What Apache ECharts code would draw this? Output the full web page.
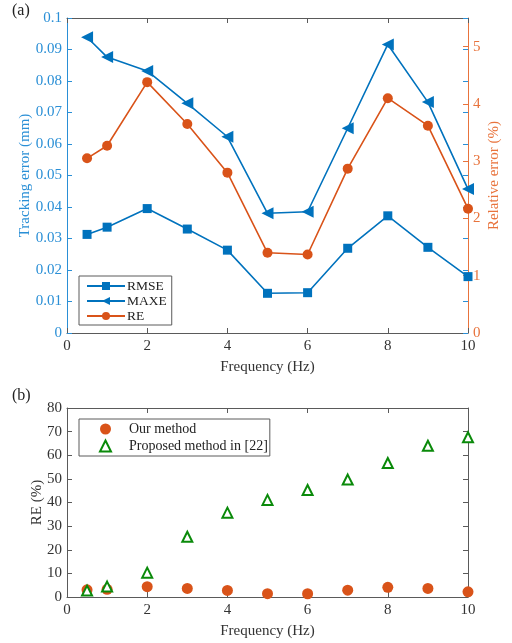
<!DOCTYPE html>
<html><head><meta charset="utf-8">
<script src="https://cdn.jsdelivr.net/npm/echarts@6/dist/echarts.min.js"></script>
<style>html,body{margin:0;padding:0;background:#fff}#c{width:512px;height:643px}</style>
</head><body><div id="c"></div>
<script>
var freq = [0.5, 1, 2, 3, 4, 5, 6, 7, 8, 9, 10];
var rmse = [0.0313, 0.0336, 0.0395, 0.0330, 0.0263, 0.0126, 0.0128, 0.0269, 0.0372, 0.0272, 0.0179];
var maxe = [0.0939, 0.0876, 0.0832, 0.0729, 0.0623, 0.0380, 0.0385, 0.0650, 0.0916, 0.0733, 0.0457];
var reTop = [3.05, 3.27, 4.38, 3.65, 2.80, 1.40, 1.37, 2.87, 4.10, 3.62, 2.17];
var ourMethod = [3.05, 3.27, 4.38, 3.65, 2.80, 1.40, 1.37, 2.87, 4.10, 3.62, 2.17];
var proposed = [2.7, 4.4, 10.3, 25.5, 35.7, 41.1, 45.3, 49.7, 56.7, 64.0, 67.6];

function pairs(xs, ys){ return xs.map(function(x,i){return [x, ys[i]];}); }

var FONT = 'Liberation Serif';
var BLUE = '#0072BD', BLUET = '#2a8fd6';
var ORANGE = '#D95319', ORANGET = '#e8733c';
var GREEN = '#0a8a0a';
var AX = '#5a5a5a', TXT = '#333';

var chart = echarts.init(document.getElementById('c'), null, {renderer:'canvas'});
function xAx(grid, pos, showLabel, name){
  return {type:'value', gridIndex:grid, position:pos, min:0, max:10, interval:2,
    axisLine:{show:true, onZero:false, lineStyle:{color:AX, width:1}},
    axisTick:{show:true, inside:true, length:5, lineStyle:{color:AX}},
    axisLabel:{show:showLabel, color:TXT, fontFamily:FONT, fontSize:15, margin:6},
    splitLine:{show:false},
    name: name||'', nameLocation:'middle', nameGap:27,
    nameTextStyle:{color:TXT, fontFamily:FONT, fontSize:15}};
}
var xAxes = [
  xAx(0,'bottom',true,'Frequency (Hz)'),
  xAx(0,'top',false),
  xAx(1,'bottom',true,'Frequency (Hz)'),
  xAx(1,'top',false)
];
xAxes.push({type:'value', gridIndex:2, min:0, max:10, show:false});

var option = {
  animation:false,
  backgroundColor:'#fff',
  grid:[
    {left:67, top:18, width:401, height:315},
    {left:67, top:408, width:401, height:189},
    {left:67, top:18, width:401, height:315}
  ],
  xAxis: xAxes,
  yAxis:[
    {type:'value', gridIndex:0, position:'left', min:0, max:0.1, interval:0.01,
      axisLine:{show:true, onZero:false, lineStyle:{color:BLUET}},
      axisTick:{show:true, inside:true, length:5, lineStyle:{color:BLUET}},
      axisLabel:{color:BLUET, fontFamily:FONT, fontSize:15, margin:5},
      splitLine:{show:false},
      name:'Tracking error (mm)', nameLocation:'middle', nameGap:34, nameMoveOverlap:false,
      nameTextStyle:{color:BLUET, fontFamily:FONT, fontSize:15}},
    {type:'value', gridIndex:0, position:'right', min:0, max:5.5, interval:1,
      axisLine:{show:true, onZero:false, lineStyle:{color:ORANGET}},
      axisTick:{show:true, inside:true, length:5, lineStyle:{color:ORANGET}},
      axisLabel:{color:ORANGET, fontFamily:FONT, fontSize:15, margin:5,
        formatter:function(v){ return (v>5.01)?'':String(v); }},
      splitLine:{show:false},
      name:'Relative error (%)', nameLocation:'middle', nameGap:19, nameRotate:90, nameMoveOverlap:false,
      nameTextStyle:{color:ORANGET, fontFamily:FONT, fontSize:15}},
    {type:'value', gridIndex:2, position:'right', min:0, max:0.1, interval:0.01,
      axisLine:{show:false, onZero:false},
      axisTick:{show:true, inside:true, length:5, lineStyle:{color:BLUET}},
      axisLabel:{show:false}, splitLine:{show:false}},
    {type:'value', gridIndex:1, position:'left', min:0, max:80, interval:10,
      axisLine:{show:true, onZero:false, lineStyle:{color:AX}},
      axisTick:{show:true, inside:true, length:5, lineStyle:{color:AX}},
      axisLabel:{color:TXT, fontFamily:FONT, fontSize:15, margin:5},
      splitLine:{show:false},
      name:'RE (%)', nameLocation:'middle', nameGap:22, nameMoveOverlap:false,
      nameTextStyle:{color:TXT, fontFamily:FONT, fontSize:15}},
    {type:'value', gridIndex:1, position:'right', min:0, max:80, interval:10,
      axisLine:{show:true, onZero:false, lineStyle:{color:AX}},
      axisTick:{show:true, inside:true, length:5, lineStyle:{color:AX}},
      axisLabel:{show:false}, splitLine:{show:false}}
  ],
  legend:[
    {orient:'vertical', left:79, top:276, itemWidth:38, itemHeight:10, itemGap:1,
      padding:[3,5,2,7], borderColor:AX, borderWidth:1, backgroundColor:'#fff',
      textStyle:{color:'#222', fontFamily:FONT, fontSize:13.5, lineHeight:12, padding:[0,0,0,-3]},
      data:['RMSE','MAXE','RE']},
    {orient:'vertical', left:79, top:419, itemWidth:11, itemHeight:11, itemGap:3,
      padding:[3,2,3,20], borderColor:AX, borderWidth:1, backgroundColor:'#fff',
      textStyle:{color:'#222', fontFamily:FONT, fontSize:14, padding:[0,0,0,13]},
      data:['Our method','Proposed method in [22]']}
  ],
  series:[
    {name:'RMSE', type:'line', xAxisIndex:0, yAxisIndex:0, data:pairs(freq, rmse),
      symbol:'rect', symbolSize:9, itemStyle:{color:BLUE}, lineStyle:{color:BLUE, width:1.6}},
    {name:'MAXE', type:'line', xAxisIndex:0, yAxisIndex:0, data:pairs(freq, maxe),
      symbol:'triangle', symbolRotate:90, symbolSize:12, itemStyle:{color:BLUE}, lineStyle:{color:BLUE, width:1.6}},
    {name:'RE', type:'line', xAxisIndex:0, yAxisIndex:1, data:pairs(freq, reTop),
      symbol:'circle', symbolSize:10, itemStyle:{color:ORANGE}, lineStyle:{color:ORANGE, width:1.6}},
    {name:'Our method', type:'scatter', xAxisIndex:2, yAxisIndex:3, data:pairs(freq, ourMethod),
      symbol:'circle', symbolSize:11, itemStyle:{color:ORANGE, opacity:1}},
    {name:'Proposed method in [22]', type:'scatter', xAxisIndex:2, yAxisIndex:3, data:pairs(freq, proposed),
      symbol:'triangle', symbolSize:10, itemStyle:{color:'#fff', borderColor:GREEN, borderWidth:2, opacity:1}}
  ],
  graphic:[
    {type:'text', left:12, top:3, style:{text:'(a)', font:'16px "Liberation Serif"', fill:'#222'}},
    {type:'text', left:12, top:388, style:{text:'(b)', font:'16px "Liberation Serif"', fill:'#222'}}
  ]
};
chart.setOption(option);
</script></body></html>
